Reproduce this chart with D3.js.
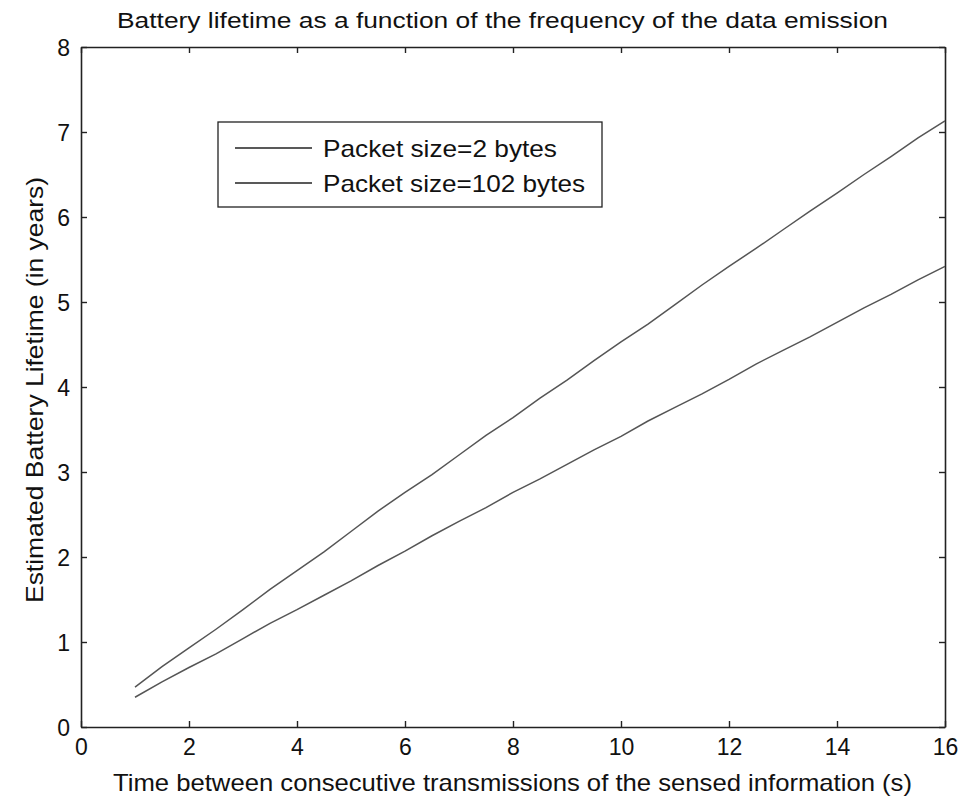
<!DOCTYPE html>
<html><head><meta charset="utf-8">
<script src="https://cdn.jsdelivr.net/npm/d3@7"></script>
<style>body{margin:0;background:#fff}svg{display:block}text{font-family:"Liberation Sans",Arial,sans-serif;fill:#111}</style>
</head><body>
<script>
const xValues = [1,1.5,2,2.5,3,3.5,4,4.5,5,5.5,6,6.5,7,7.5,8,8.5,9,9.5,10,10.5,11,11.5,12,12.5,13,13.5,14,14.5,15,15.5,16];
const packet2 = [0.47,0.71,0.93,1.15,1.38,1.62,1.84,2.06,2.30,2.54,2.76,2.97,3.20,3.43,3.64,3.87,4.08,4.31,4.53,4.74,4.97,5.20,5.42,5.63,5.85,6.07,6.28,6.50,6.71,6.93,7.13];
const packet102 = [0.35,0.53,0.70,0.86,1.04,1.22,1.38,1.55,1.72,1.90,2.07,2.25,2.42,2.58,2.76,2.92,3.09,3.26,3.42,3.60,3.76,3.92,4.09,4.27,4.43,4.59,4.76,4.93,5.09,5.26,5.42];
const seriesNames = ["Packet size=2 bytes","Packet size=102 bytes"];
const xTicks = [0,2,4,6,8,10,12,14,16];
const yTicks = [0,1,2,3,4,5,6,7,8];
const titleText = "Battery lifetime as a function of the frequency of the data emission";
const xLabel = "Time between consecutive transmissions of the sensed information (s)";
const yLabel = "Estimated Battery Lifetime (in years)";

(function(){
const W=968,H=797, L=81,R=945,T=47,B=727;
const svg=d3.select("body").append("svg").attr("width",W).attr("height",H);
const x=d3.scaleLinear().domain([0,16]).range([L,R]);
const y=d3.scaleLinear().domain([0,8]).range([B,T]);

const tl=6;
const axisCol="#222";
const gBottom=svg.append("g").attr("transform",`translate(0,${B})`)
  .call(d3.axisBottom(x).tickValues(xTicks).tickSizeInner(-tl).tickSizeOuter(0).tickPadding(13).tickFormat(d3.format("d")));
const gTop=svg.append("g").attr("transform",`translate(0,${T})`)
  .call(d3.axisTop(x).tickValues(xTicks).tickSizeInner(-tl).tickSizeOuter(0).tickFormat(""));
const gLeft=svg.append("g").attr("transform",`translate(${L},0)`)
  .call(d3.axisLeft(y).tickValues(yTicks).tickSizeInner(-tl).tickSizeOuter(0).tickPadding(11).tickFormat(d3.format("d")));
const gRight=svg.append("g").attr("transform",`translate(${R},0)`)
  .call(d3.axisRight(y).tickValues(yTicks).tickSizeInner(-tl).tickSizeOuter(0).tickFormat(""));
[gBottom,gTop,gLeft,gRight].forEach(g=>{
  g.select(".domain").attr("stroke",axisCol).attr("stroke-width",1.6);
  g.selectAll(".tick line").attr("stroke",axisCol).attr("stroke-width",1.4);
  g.selectAll("text").style("font-size","23px").attr("fill","#111").style("font-family",'"Liberation Sans",Arial,sans-serif');
});
gBottom.selectAll("text").attr("dy","0.66em");
gLeft.selectAll("text").attr("dy","0.36em");

const line=d3.line().x((d,i)=>x(xValues[i])).y(d=>y(d));
[packet2,packet102].forEach(s=>{
  svg.append("path").datum(s).attr("d",line).attr("fill","none")
    .attr("stroke","#555").attr("stroke-width",1.5);
});

svg.append("text").attr("x",117).attr("y",28).text(titleText)
  .style("font-size","22px").attr("textLength",771).attr("lengthAdjust","spacingAndGlyphs");
svg.append("text").attr("x",113).attr("y",791).text(xLabel)
  .style("font-size","24px").attr("textLength",799).attr("lengthAdjust","spacingAndGlyphs");
svg.append("text").attr("transform","translate(43,603) rotate(-90)").text(yLabel)
  .style("font-size","24px").attr("textLength",426).attr("lengthAdjust","spacingAndGlyphs");

const lg=svg.append("g");
lg.append("rect").attr("x",218).attr("y",122).attr("width",384).attr("height",85)
  .attr("fill","#fff").attr("stroke",axisCol).attr("stroke-width",1.3);
const legW=[234,262];
seriesNames.forEach((n,i)=>{
  const yy=148+i*35;
  lg.append("line").attr("x1",235).attr("x2",312).attr("y1",yy).attr("y2",yy).attr("stroke","#222").attr("stroke-width",1.3);
  lg.append("text").attr("x",323).attr("y",yy+9).text(n).style("font-size","24px")
    .attr("textLength",legW[i]).attr("lengthAdjust","spacingAndGlyphs");
});
})();
</script>
</body></html>
